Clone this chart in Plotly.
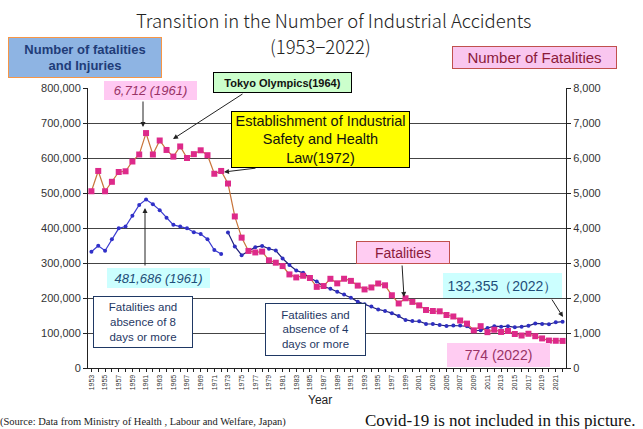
import plotly.graph_objects as go

years = list(range(1953, 2023))

fatalities = [5050, 5630, 5050, 5320, 5600, 5620, 5900, 6100, 6712, 6100,
              6500, 6230, 6040, 6330, 6000, 6110, 6220, 6080, 5550, 5630,
              5270, 4330, 3725, 3345, 3302, 3326, 3077, 3009, 2912, 2674,
              2588, 2635, 2572, 2318, 2342, 2549, 2419, 2550, 2489, 2354,
              2245, 2301, 2414, 2363, 2078, 1844, 1992, 1889, 1790, 1658,
              1628, 1620, 1514, 1472, 1357, 1268, 1075, 1195, 1024, 1093,
              1030, 1057, 972, 928, 978, 909, 845, 784, 778, 774]

years_8day = list(range(1953, 1973))
injuries_8day = [332000, 349000, 335000, 368000, 399000, 404000, 435000, 466000,
                 481686, 468000, 451000, 429000, 409000, 404000, 399000, 388000,
                 383000, 368000, 337000, 326000]

years_4day = list(range(1973, 2023))
injuries_4day = [387342, 347407, 322322, 333311, 345293, 348826, 340731, 335706,
                 312844, 294319, 278623, 271884, 257240, 246891, 232953, 226318,
                 217964, 210108, 200633, 189589, 181900, 176047, 167316, 162862,
                 156726, 148248, 137316, 133948, 133598, 125918, 125750, 122804,
                 120354, 121378, 121356, 119291, 105718, 107759, 114176, 119576,
                 118157, 119535, 116311, 117910, 120460, 127329, 125611, 125115,
                 130586, 132355]

x_tick_years = list(range(1953, 2022, 2))
x_tick_text = [str(y) for y in x_tick_years]
left_ticks = list(range(0, 800001, 100000))
left_tick_text = ["0"] + [f"{v:,}" for v in left_ticks[1:]]
right_ticks = list(range(0, 8001, 1000))
right_tick_text = [f"{v:,}" for v in right_ticks]

W, H = 643, 429
L, R, T, B = 88, 77, 88, 61
PW, PH = W - L - R, H - T - B

SANS = "Liberation Sans, Arial"


def px(x):
    return (x - L) / PW


def py(y):
    return (H - B - y) / PH


fig = go.Figure()

fig.add_trace(go.Scatter(
    x=years_8day, y=injuries_8day, mode="lines+markers",
    line=dict(color="#3A3AD0", width=1.2),
    marker=dict(color="#3030C8", size=4, symbol="circle"),
    yaxis="y", showlegend=False))
fig.add_trace(go.Scatter(
    x=years_4day, y=injuries_4day, mode="lines+markers",
    line=dict(color="#1E1E78", width=1.2),
    marker=dict(color="#2E2EC0", size=4, symbol="circle"),
    yaxis="y", showlegend=False))
fig.add_trace(go.Scatter(
    x=years, y=fatalities, mode="lines+markers",
    line=dict(color="#C8743A", width=1.2),
    marker=dict(color="#DD2A8A", size=6, symbol="square"),
    yaxis="y2", showlegend=False))

ann = []


def box(text, x0, y0, x1, y1, bg, border, color, size, italic=False, bold=False, bw=1, family=SANS):
    if italic:
        text = f"<i>{text}</i>"
    if bold:
        text = f"<b>{text}</b>"
    ann.append(dict(
        text=text, xref="paper", yref="paper",
        x=px(x0), y=py(y0), xanchor="left", yanchor="top",
        width=x1 - x0 - 2 - 2 * bw, height=y1 - y0 - 2 - 2 * bw,
        align="center", valign="middle",
        bgcolor=bg, bordercolor=border, borderwidth=bw, borderpad=1,
        showarrow=False,
        font=dict(family=family, size=size, color=color)))


def arrow(tx, ty, hx, hy):
    ann.append(dict(
        text="", xref="paper", yref="paper", x=px(hx), y=py(hy),
        ax=tx - hx, ay=ty - hy, showarrow=True,
        arrowhead=2, arrowsize=1, arrowwidth=1, arrowcolor="#222222",
        standoff=0, startstandoff=0))


# title
ann.append(dict(text="Transition in the Number of Industrial Accidents",
                xref="paper", yref="paper", x=px(333), y=py(20),
                xanchor="center", yanchor="middle", showarrow=False,
                font=dict(family="Noto Sans CJK JP, Liberation Sans", size=18.5,
                          color="#222222", weight=300)))
ann.append(dict(text="(1953\u22122022)",
                xref="paper", yref="paper", x=px(320), y=py(46),
                xanchor="center", yanchor="middle", showarrow=False,
                font=dict(family="Noto Sans CJK JP, Liberation Sans", size=18.5,
                          color="#222222", weight=300)))

box("Number of fatalities<br>and Injuries", 8, 37, 162, 78, "#8EB4E3", "#F79646", "#1F3C78", 13,
    bold=True)
box("Number of Fatalities", 452, 46, 617, 69, "#F9C6EF", "#C0504D", "#8B1A3A", 15)
box("6,712 (1961)", 104, 81, 197, 100, "#FFC9F2", "#FFC9F2", "#993366", 13, italic=True, bw=0)
box("Tokyo Olympics(1964)", 213, 72, 352, 93, "#CCFFCC", "#000000", "#111111", 11, bold=True)
box("Establishment of Industrial<br>Safety and Health<br>Law(1972)", 231, 111, 410, 168,
    "#FFFF00", "#000000", "#111111", 14.5)
box("481,686 (1961)", 107, 268, 210, 288, "#CCFFFF", "#CCFFFF", "#1F4E79", 13, italic=True, bw=0)
box("Fatalities and<br>absence of 8<br>days or more", 93, 296, 193, 348, "#FFFFFF", "#1F3864", "#1F3864", 11.5)
box("Fatalities and<br>absence of 4<br>days or more", 265, 303, 366, 356, "#FFFFFF", "#1F3864", "#1F3864", 11.5)
box("Fatalities", 356, 241, 450, 264, "#FFCCF2", "#C0504D", "#8B1A3A", 14)
box("132,355\uff082022\uff09", 443, 273, 562, 298, "#CCFFFF", "#CCFFFF", "#1F4E79", 14, bw=0)
box("774 (2022)", 447, 343, 550, 367, "#FFCCF2", "#FFCCF2", "#993366", 14, bw=0)

arrow(143, 100, 143, 127)
arrow(244, 93, 173, 139)
arrow(257, 168, 224, 172)
arrow(145, 267, 145, 208)
arrow(402, 264, 404, 297)
arrow(551, 298, 563, 317)

ann.append(dict(text="Year", xref="paper", yref="paper", x=px(320), y=py(400),
                xanchor="center", yanchor="middle", showarrow=False,
                font=dict(family=SANS, size=12, color="#222222")))
ann.append(dict(text="(Source: Data from Ministry of Health , Labour and Welfare, Japan)",
                xref="paper", yref="paper", x=px(-2), y=py(422),
                xanchor="left", yanchor="middle", showarrow=False,
                font=dict(family="Liberation Serif, serif", size=10.5, color="#222222")))
ann.append(dict(text="Covid-19 is not included in this picture.",
                xref="paper", yref="paper", x=px(363), y=py(420),
                xanchor="left", yanchor="middle", showarrow=False,
                font=dict(family="Liberation Serif, serif", size=17, color="#111111")))

fig.update_layout(
    width=W, height=H, margin=dict(l=L, r=R, t=T, b=B),
    paper_bgcolor="white", plot_bgcolor="white",
    annotations=ann,
    xaxis=dict(range=[1952.5, 2022.5], tickvals=x_tick_years, ticktext=x_tick_text,
               tickangle=-90, tickfont=dict(family=SANS, size=7, color="#333333"),
               showgrid=False, zeroline=False, showline=True, linecolor="#222222",
               ticks="outside", ticklen=3, tickcolor="#222222",
               minor=dict(tick0=1953, dtick=1, ticks="outside", ticklen=3, tickcolor="#222222")),
    yaxis=dict(range=[0, 800000], tickvals=left_ticks, ticktext=left_tick_text,
               tickfont=dict(family=SANS, size=11, color="#333333"),
               showgrid=True, gridcolor="#444444", gridwidth=1, zeroline=False,
               showline=True, linecolor="#222222", ticks="outside", ticklen=4, tickcolor="#222222"),
    yaxis2=dict(range=[0, 8000], tickvals=right_ticks, ticktext=right_tick_text,
                overlaying="y", side="right",
                tickfont=dict(family=SANS, size=11, color="#333333"),
                showgrid=False, zeroline=False, showline=True, linecolor="#222222",
                ticks="outside", ticklen=4, tickcolor="#222222"),
)

fig.write_html("out.html", config={"displayModeBar": False},
               post_script="document.body.style.margin='0';document.body.style.overflow='hidden';")
